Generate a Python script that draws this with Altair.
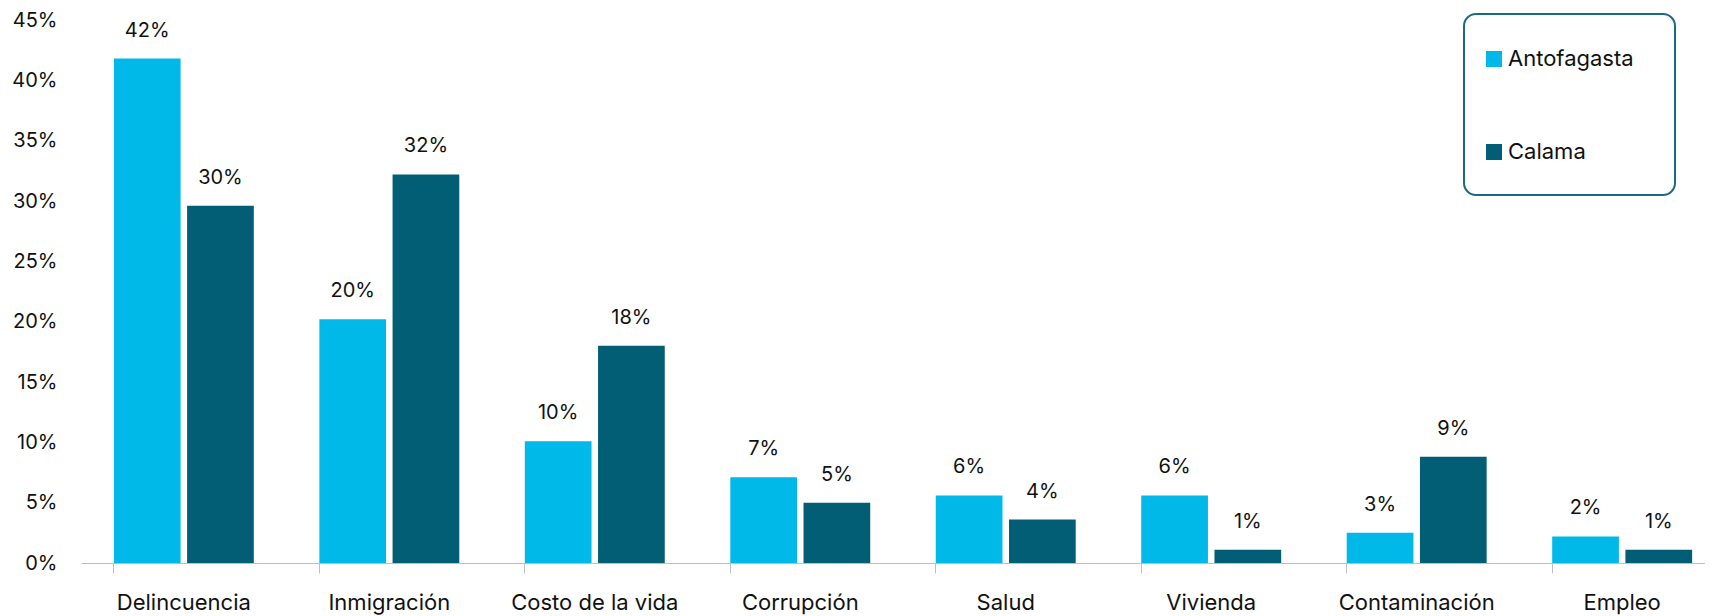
import altair as alt
import pandas as pd

categories = ["Delincuencia", "Inmigración", "Costo de la vida", "Corrupción",
              "Salud", "Vivienda", "Contaminación", "Empleo"]
series = ["Antofagasta", "Calama"]
antofagasta = [0.418, 0.202, 0.101, 0.071, 0.056, 0.056, 0.025, 0.022]
calama = [0.296, 0.322, 0.180, 0.050, 0.036, 0.011, 0.088, 0.011]
colors = ["#00b9e8", "#025e74"]
y_ticks = [0, 0.05, 0.10, 0.15, 0.20, 0.25, 0.30, 0.35, 0.40, 0.45]

rows = []
for i, c in enumerate(categories):
    rows.append({"categoria": c, "ciudad": series[0], "valor": antofagasta[i]})
    rows.append({"categoria": c, "ciudad": series[1], "valor": calama[i]})
df = pd.DataFrame(rows)

FONT = "Inter"

x_enc = alt.X(
    "categoria:N", sort=categories, title=None,
    scale=alt.Scale(range=[0, 1644], paddingInner=0.319, paddingOuter=0.16),
    axis=alt.Axis(bandPosition=0, tickSize=10, tickColor="#bfbfbf", domainColor="#bfbfbf",
                  labelFont=FONT, labelFontSize=22, labelColor="#111111", labelPadding=19,
                  labelAngle=0, labelLimit=400),
)
xoff_enc = alt.XOffset("ciudad:N", sort=series, scale=alt.Scale(paddingInner=0.089))
y_enc = alt.Y(
    "valor:Q", title=None,
    scale=alt.Scale(domain=[0, 0.45], nice=False),
    axis=alt.Axis(values=y_ticks, format=".0%", grid=False, domain=False, ticks=False, tickSize=0,
                  labelFont=FONT, labelFontSize=20, labelColor="#111111", labelPadding=24,
                  minExtent=73, maxExtent=73),
)
color_enc = alt.Color(
    "ciudad:N", sort=series,
    scale=alt.Scale(domain=series, range=colors),
    legend=alt.Legend(orient="none", legendX=1402, legendY=28, title=None,
                      symbolType="square", symbolSize=256, symbolStrokeWidth=0,
                      labelFont=FONT, labelFontSize=22, labelColor="#111111",
                      labelOffset=3, rowPadding=71, padding=0),
)

base = alt.Chart(df).encode(x=x_enc, xOffset=xoff_enc, y=y_enc)

bars = base.mark_bar().encode(color=color_enc)
labels = base.mark_text(font=FONT, fontSize=20, color="#111111", baseline="middle", dy=-28).encode(
    text=alt.Text("valor:Q", format=".0%")
)

box = alt.Chart(pd.DataFrame({"a": [0]})).mark_rect(
    fill="white", fillOpacity=0, stroke="#1b6b80", strokeWidth=2, cornerRadius=12
).encode(x=alt.value(1383), x2=alt.value(1594), y=alt.value(-6), y2=alt.value(175))

chart = alt.layer(bars, labels, box).properties(
    width=1624, height=543,
    autosize=alt.AutoSizeParams(type="none"),
    padding={"left": 73, "top": 12, "right": 0, "bottom": 53},
).configure_view(stroke=None)

chart.save("out.html", embed_options={"renderer": "svg", "actions": False})
